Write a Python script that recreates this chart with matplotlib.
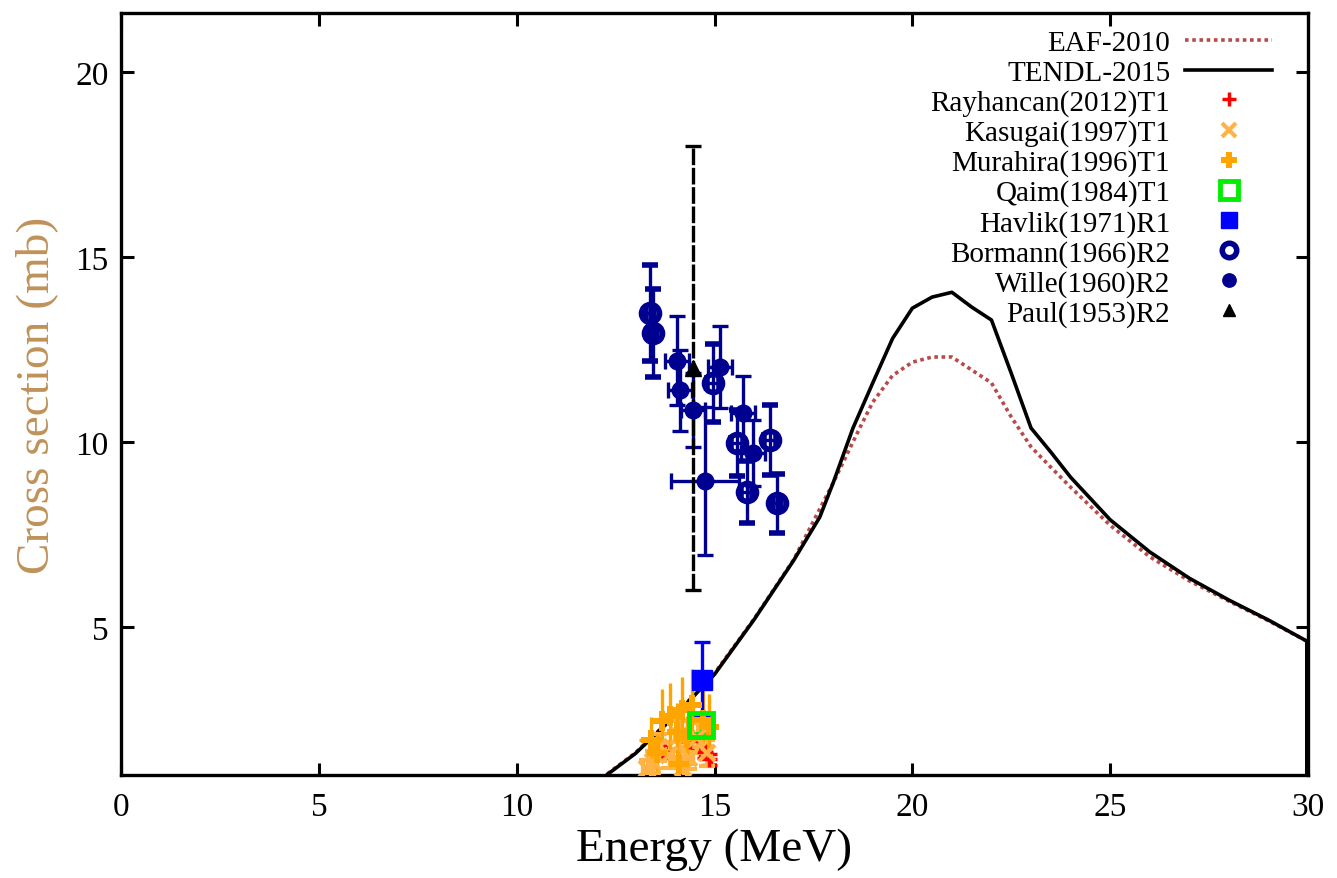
import matplotlib
matplotlib.use('Agg')
import matplotlib.pyplot as plt

plt.rcParams['font.family'] = ['Liberation Serif', 'DejaVu Serif']

# Evaluated cross sections (mb) vs neutron energy (MeV)
tendl_e = [12.0, 13.0, 14.0, 15.0, 16.0, 17.0, 17.66, 18.0, 18.5, 19.0, 19.5, 20.0, 20.5, 21.0,
           21.5, 22.0, 22.5, 23.0, 23.5, 24.0, 25.0, 26.0, 27.0, 28.0, 29.0, 29.97, 29.97]
tendl_xs = [0.78, 1.58, 2.6, 3.72, 5.2, 6.8, 7.97, 8.9, 10.38, 11.6, 12.8, 13.62, 13.92, 14.05,
            13.65, 13.3, 11.86, 10.38, 9.73, 9.05, 7.9, 7.03, 6.32, 5.73, 5.19, 4.62, 0.0]

eaf_e = [12.0, 13.0, 14.0, 15.0, 16.0, 17.0, 18.0, 18.68, 19.0, 19.5, 20.0, 20.5, 21.0, 21.5,
         22.0, 22.5, 23.0, 23.5, 24.0, 25.0, 26.0, 27.0, 28.0, 29.0, 30.0]
eaf_xs = [0.8, 1.6, 2.62, 3.75, 5.22, 6.82, 8.9, 10.4, 11.08, 11.8, 12.16, 12.3, 12.3, 11.95,
          11.6, 10.68, 9.87, 9.32, 8.78, 7.75, 6.9, 6.25, 5.7, 5.17, 4.6]

# Experimental data: energy, cross section, dxs, dE
rayhancan_e = [13.7, 14.37, 14.75, 14.85]
rayhancan_xs = [1.62, 1.92, 1.62, 1.42]
rayhancan_dxs = [0.15, 0.18, 0.16, 0.15]
rayhancan_de = [0.05, 0.05, 0.12, 0.05]

kasugai_e = [13.45, 13.6, 13.85, 14.1, 14.35, 14.55, 14.8, 13.3, 14.2]
kasugai_xs = [1.35, 1.75, 1.55, 2.05, 1.45, 2.0, 1.6, 1.15, 1.2]
kasugai_dxs = [0.3, 0.35, 0.35, 0.4, 0.3, 0.4, 0.35, 0.25, 0.3]
kasugai_de = [0.1, 0.1, 0.1, 0.1, 0.1, 0.1, 0.1, 0.1, 0.1]

murahira_e = [13.4, 13.67, 13.87, 14.05, 14.18, 14.43, 14.7, 14.85, 14.1, 13.55, 14.3]
murahira_xs = [1.95, 2.45, 2.6, 2.15, 2.75, 2.9, 2.5, 2.3, 1.3, 1.6, 2.0]
murahira_dxs = [0.62, 0.87, 0.9, 0.8, 0.9, 0.96, 0.8, 0.9, 0.35, 0.5, 0.6]
murahira_de = [0.3, 0.25, 0.25, 0.2, 0.3, 0.25, 0.2, 0.15, 0.2, 0.2, 0.2]

qaim_e = [14.66]
qaim_xs = [2.35]
qaim_dxs = [0.25]

havlik_e = [14.68]
havlik_xs = [3.58]
havlik_dxs = [1.02]

bormann_e = [13.37, 13.45, 14.96, 15.57, 16.4, 16.57, 15.81]
bormann_xs = [13.5, 12.95, 11.6, 9.97, 10.05, 8.35, 8.65]
bormann_dxs = [1.3, 1.2, 1.05, 0.9, 0.95, 0.8, 0.85]
bormann_de = [0.1, 0.1, 0.15, 0.15, 0.15, 0.1, 0.15]

wille_e = [14.05, 15.14, 14.13, 14.45, 15.72, 15.98, 14.76]
wille_xs = [12.2, 12.03, 11.4, 10.86, 10.78, 9.7, 8.95]
wille_dxs = [1.2, 1.1, 1.1, 1.0, 1.0, 0.9, 2.0]
wille_de = [0.3, 0.3, 0.3, 0.3, 0.3, 0.3, 0.85]

paul_e = [14.45]
paul_xs = [12.0]
paul_dxs = [6.0]

fig = plt.figure(figsize=(13.37, 8.79), dpi=100)
ax = fig.add_axes([121 / 1337, 1 - 776 / 879, 1187 / 1337, 762 / 879])

eaf, = ax.plot(eaf_e, eaf_xs, color='#b94a4a', lw=2.6, ls=(0, (1, 1)), label='EAF-2010', zorder=3)
tendl, = ax.plot(tendl_e, tendl_xs, color='black', lw=2.6, label='TENDL-2015', zorder=4)

eb = dict(capsize=6, elinewidth=2.4, capthick=2.4, ls='none', zorder=5)
series = [
    ax.errorbar(rayhancan_e, rayhancan_xs, yerr=rayhancan_dxs, xerr=rayhancan_de, color='red',
                marker='+', ms=12, mew=2.5, label='Rayhancan(2012)T1', **eb),
    ax.errorbar(kasugai_e, kasugai_xs, yerr=kasugai_dxs, xerr=kasugai_de, color='#ffb347',
                marker='x', ms=12, mew=3, label='Kasugai(1997)T1', **eb),
    ax.errorbar(murahira_e, murahira_xs, yerr=murahira_dxs, xerr=murahira_de, color='#ffa500',
                marker='P', ms=14, mew=0, label='Murahira(1996)T1', **eb),
    ax.errorbar(qaim_e, qaim_xs, yerr=qaim_dxs, color='#00ee00', marker='s', ms=17, mfc='none',
                mew=3.5, label='Qaim(1984)T1', **eb),
    ax.errorbar(havlik_e, havlik_xs, yerr=havlik_dxs, color='#0000ff', marker='s', ms=15,
                label='Havlik(1971)R1', **eb),
    ax.errorbar(bormann_e, bormann_xs, yerr=bormann_dxs, xerr=bormann_de, color='#000090',
                marker='o', ms=13, mfc='none', mew=4, label='Bormann(1966)R2', **eb),
    ax.errorbar(wille_e, wille_xs, yerr=wille_dxs, xerr=wille_de, color='#000090',
                marker='o', ms=12, label='Wille(1960)R2', **eb),
    ax.errorbar(paul_e, paul_xs, yerr=paul_dxs, color='black', marker='^', ms=11,
                label='Paul(1953)R2', **eb),
]
series[-1][2][0].set_linestyle((0, (5, 0.8)))

ax.set_xlim(0, 30)
ax.set_ylim(1, 21.6)
ax.set_xticks([0, 5, 10, 15, 20, 25, 30])
ax.set_yticks([5, 10, 15, 20])
ax.tick_params(direction='in', length=9, width=2.2, top=True, right=True, labelsize=24)
ax.tick_params(axis='x', pad=12)
ax.tick_params(axis='y', pad=9)
for s in ax.spines.values():
    s.set_linewidth(2.4)

ax.set_xlabel('Energy (MeV)', fontsize=34, labelpad=4)
ax.set_ylabel('Cross section (mb)', fontsize=34, color='#c0925a', labelpad=12)

# legend shows only the marker of each data set, no error bars
handles = [eaf, tendl] + [c[0] for c in series]
labels = [h.get_label() for h in handles[:2]] + [c.get_label() for c in series]
ax.legend(handles, labels, loc='upper right', bbox_to_anchor=(0.97, 0.978), frameon=False,
          markerfirst=False, alignment='right', fontsize=21, handlelength=3.0,
          handletextpad=0.5, labelspacing=0.11, borderpad=0, borderaxespad=0, numpoints=1,
          markerscale=0.8)

fig.savefig('out.png', dpi=100)
